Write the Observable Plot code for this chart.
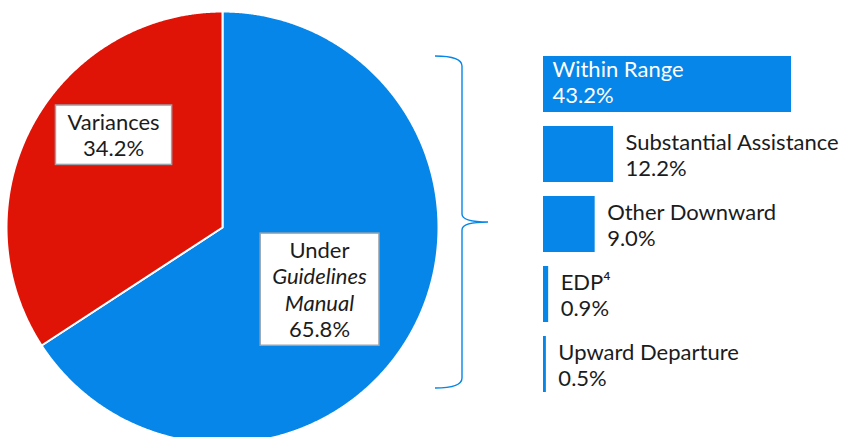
<!DOCTYPE html>
<html><head><meta charset="utf-8">
<script src="https://cdn.jsdelivr.net/npm/d3@7"></script>
<script src="https://cdn.jsdelivr.net/npm/@observablehq/plot@0.6"></script>
<style>
body{margin:0;background:#fff;}
#chart{position:relative;width:849px;height:437px;overflow:hidden;font-family:Lato,sans-serif;}
#chart svg{position:absolute;top:0;}
</style></head><body><div id="chart"></div>
<script>
// ---- data ----
const pieCategories = ["Under Guidelines Manual", "Variances"];
const pieValues = [65.8, 34.2];
const pieLabelText = ["Under\nGuidelines\nManual\n65.8%", "Variances\n34.2%"];

const barCategories = ["Within Range", "Substantial Assistance", "Other Downward", "EDP⁴", "Upward Departure"];
const barValues = [43.2, 12.2, 9.0, 0.9, 0.5];
const barValueLabels = ["43.2%", "12.2%", "9.0%", "0.9%", "0.5%"];

// ---- styles ----
const BLUE = "#0586E8", RED = "#E01307", INK = "#1c1c1c";
const FONT = 22, LH = 1.2;

const chart = document.getElementById("chart");

// ---- pie ----
const arcs = d3.pie().sort(null).startAngle(0).endAngle(2 * Math.PI)(pieValues);
const sliceColors = [BLUE, RED];
const slicePoints = arcs.map((a, i) => {
  const pts = [{x: 0, y: 0}];
  const n = Math.ceil((a.endAngle - a.startAngle) / 0.005);
  for (let k = 0; k <= n; k++) {
    const t = a.startAngle + (a.endAngle - a.startAngle) * k / n;
    pts.push({x: Math.sin(t), y: Math.cos(t)});
  }
  return pts;
});
const labelPos = arcs.map((a, i) => {
  const m = (a.startAngle + a.endAngle) / 2;
  return {x: Math.sin(m) * 0.6, y: Math.cos(m) * 0.6, text: pieLabelText[i]};
});
const labelOffsets = [[-17, 0], [5, -31]];

const piePlot = Plot.plot({
  width: 440, height: 437, margin: 0,
  x: {domain: [-1, 1], range: [6, 438], axis: null},
  y: {domain: [-1, 1], range: [443, 11], axis: null},
  style: {background: "transparent", overflow: "visible", fontFamily: "Lato, sans-serif"},
  marks: [
    ...slicePoints.map((pts, i) => Plot.line(pts, {x: "x", y: "y", fill: sliceColors[i], stroke: "white", strokeWidth: 2, curve: "linear-closed"})),
    ...labelPos.map((d, i) => Plot.text([d], {x: "x", y: "y", text: "text", fontSize: FONT, lineHeight: LH, fill: INK,
      dx: labelOffsets[i][0], dy: labelOffsets[i][1]}))
  ]
});
piePlot.style.left = "0px";
chart.appendChild(piePlot);

// boxes behind pie labels, italic lines
d3.select(piePlot).selectAll("text").each(function(_, i) {
  const tspans = d3.select(this).selectAll("tspan");
  if (tspans.size() === 4) {
    tspans.each(function(_, j) { if (j === 1 || j === 2) this.setAttribute("font-style", "italic"); });
  }
  const b = this.getBBox();
  const padX = 12, padY = 3;
  d3.select(this.parentNode).insert("rect", () => this)
    .attr("transform", this.getAttribute("transform"))
    .attr("x", b.x - padX).attr("y", b.y - padY)
    .attr("width", b.width + 2 * padX).attr("height", b.height + 2 * padY)
    .attr("fill", "white").attr("stroke", "#9aa2ab").attr("stroke-width", 1.5);
});

// ---- bars ----
const barData = barCategories.map((c, i) => ({cat: c, value: barValues[i], label: c + "\n" + barValueLabels[i]}));
const barPlot = Plot.plot({
  width: 419, height: 437,
  marginLeft: 113, marginRight: 58, marginTop: 39, marginBottom: 29,
  x: {domain: [0, d3.max(barValues)], axis: null},
  y: {domain: barCategories, padding: 0.2, axis: null},
  style: {background: "transparent", overflow: "visible", fontFamily: "Lato, sans-serif"},
  marks: [
    Plot.barX(barData, {x: "value", y: "cat", fill: BLUE}),
    Plot.text(barData.slice(0, 1), {x: 0, y: "cat", text: "label", textAnchor: "start", dx: 9, dy: -3,
      fill: "white", fontSize: FONT, lineHeight: LH}),
    Plot.text(barData.slice(1), {x: "value", y: "cat", text: "label", textAnchor: "start", dx: 12,
      fill: INK, fontSize: FONT, lineHeight: LH})
  ]
});
barPlot.style.left = "430px";
chart.appendChild(barPlot);

// brace spanning all breakdown bars
const ysc = barPlot.scale("y"), xsc = barPlot.scale("x");
const braceTop = ysc.apply(barCategories[0]);
const braceBot = ysc.apply(barCategories[barCategories.length - 1]) + ysc.bandwidth - 4;
const braceMid = (braceTop + braceBot) / 2;
const bx0 = xsc.apply(0);
const xl = bx0 - 108, xv = bx0 - 81, xt = bx0 - 55;
const bracePath = `M${xl},${braceTop} Q${xv},${braceTop} ${xv},${braceTop + 10} L${xv},${braceMid - 8} Q${xv},${braceMid} ${xt},${braceMid} Q${xv},${braceMid} ${xv},${braceMid + 8} L${xv},${braceBot - 10} Q${xv},${braceBot} ${xl},${braceBot}`;
d3.select(barPlot).append("path").attr("d", bracePath).attr("fill", "none").attr("stroke", BLUE).attr("stroke-width", 1.4);
</script>
</body></html>
